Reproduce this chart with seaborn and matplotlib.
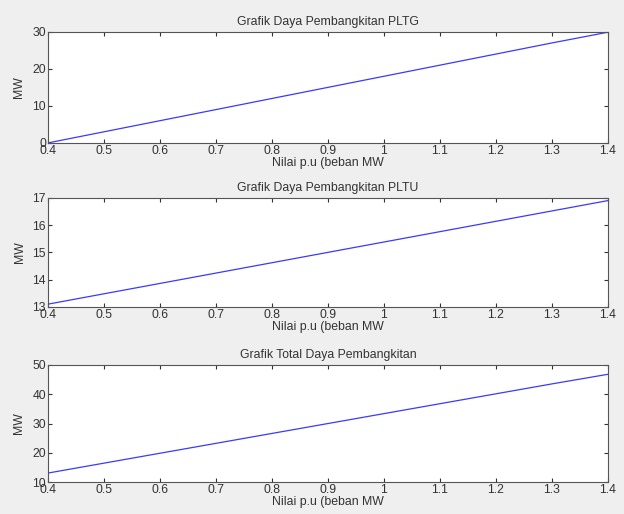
import matplotlib
matplotlib.use("Agg")
import matplotlib.pyplot as plt
import pandas as pd
import seaborn as sns

# values
beban_pu = [0.4, 0.5, 0.6, 0.7, 0.8, 0.9, 1.0, 1.1, 1.2, 1.3, 1.4]
daya_pltg = [0.0, 3.0, 6.0, 9.0, 12.0, 15.0, 18.0, 21.0, 24.0, 27.0, 29.9]
daya_pltu = [13.1, 13.48, 13.86, 14.24, 14.62, 15.0, 15.38, 15.76, 16.14, 16.52, 16.9]
daya_total = [13.1, 16.48, 19.86, 23.24, 26.62, 30.0, 33.38, 36.76, 40.14, 43.52, 46.8]

titles = [
    "Grafik Daya Pembangkitan PLTG",
    "Grafik Daya Pembangkitan PLTU",
    "Grafik Total Daya Pembangkitan",
]
y_ticks = [[0, 10, 20, 30], [13, 14, 15, 16, 17], [10, 20, 30, 40, 50]]
x_ticks = beban_pu
x_ticklabels = ["0.4", "0.5", "0.6", "0.7", "0.8", "0.9", "1", "1.1", "1.2", "1.3", "1.4"]

sns.set_style("ticks")
plt.rcParams["font.family"] = ["Liberation Sans", "DejaVu Sans"]

fs = 8.8
txt = "#333333"

fig = plt.figure(figsize=(6.24, 5.14), dpi=100, facecolor="#efefef")

# [left, bottom, width, height] in figure fraction
boxes = [
    [0.077, 0.722, 0.897, 0.216],
    [0.077, 0.403, 0.897, 0.212],
    [0.077, 0.062, 0.897, 0.228],
]

for box, title, vals, yt in zip(boxes, titles, [daya_pltg, daya_pltu, daya_total], y_ticks):
    ax = fig.add_axes(box)
    df = pd.DataFrame({"pu": beban_pu, "mw": vals})
    sns.lineplot(data=df, x="pu", y="mw", ax=ax, color="#3a3aff", linewidth=0.9)
    ax.set_xlim(0.4, 1.4)
    ax.set_ylim(yt[0], yt[-1])
    ax.set_xticks(x_ticks)
    ax.set_xticklabels(x_ticklabels)
    ax.set_yticks(yt)
    ax.tick_params(direction="in", top=True, right=True, length=3, width=0.8,
                   labelsize=fs, colors=txt, pad=1.5)
    for s in ax.spines.values():
        s.set_color("#555555")
        s.set_linewidth(0.8)
    ax.set_title(title, fontsize=fs, color=txt, pad=5)
    ax.set_xlabel("Nilai p.u (beban MW", fontsize=fs, color=txt, labelpad=0)
    ax.set_ylabel("MW", fontsize=fs, color=txt, labelpad=5)

fig.savefig("out.png", dpi=100, facecolor=fig.get_facecolor())
